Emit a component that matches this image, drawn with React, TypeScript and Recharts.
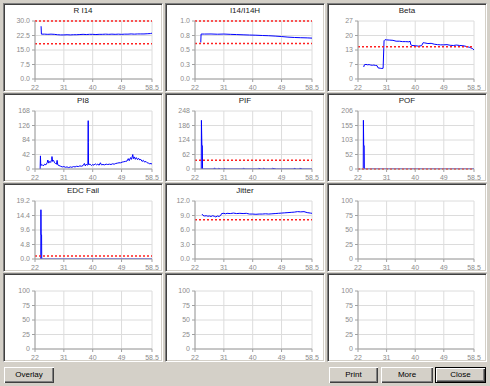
import React from "react";
import { LineChart, Line, XAxis, YAxis, CartesianGrid, ReferenceLine } from "recharts";

// x axis is the same for every panel
const xTicks = [22, 31, 40, 49, 58.5];
const xLabels = ["22", "31", "40", "49", "58.5"];

// R I14
const riTicks = [0, 7.5, 15, 22.5, 30];
const riLabels = ["0.0", "7.5", "15.0", "22.5", "30.0"];
const riLimits = [30, 18.2];
const riData: [number, number][] = [
  [23.9, 27.3], [24.0, 23.2], [25, 23.2], [26, 23.1], [27, 23.2], [28, 23.1], [29, 22.9],
  [30, 22.8], [31, 22.8], [32, 22.9], [33, 22.8], [34, 22.9], [35, 22.9], [36, 23.0],
  [37, 23.1], [38, 23.0], [39, 23.1], [40, 23.1], [41, 23.0], [42, 23.1], [43, 23.1],
  [44, 23.2], [45, 23.1], [46, 23.2], [47, 23.1], [48, 23.2], [49, 23.1], [50, 23.2],
  [51, 23.2], [52, 23.3], [53, 23.2], [54, 23.3], [55, 23.3], [56, 23.3], [57, 23.4],
  [58, 23.5], [58.5, 23.7],
];

// I14/I14H
const iTicks = [0, 0.25, 0.5, 0.75, 1];
const iLabels = ["0.0", "0.3", "0.5", "0.8", "1.0"];
const iLimits = [1, 0.61];
const iData: [number, number][] = [
  [23.8, 0.63], [23.9, 0.775], [25, 0.775], [27, 0.776], [29, 0.772], [31, 0.775],
  [33, 0.77], [35, 0.766], [37, 0.762], [39, 0.758], [41, 0.755], [43, 0.75],
  [45, 0.746], [47, 0.74], [49, 0.732], [51, 0.722], [53, 0.716], [55, 0.712],
  [57, 0.709], [58.5, 0.705],
];

// Beta
const betaTicks = [0, 6.75, 13.5, 20.25, 27];
const betaLabels = ["0", "7", "13", "20", "27"];
const betaLimits = [15];
const betaData: [number, number][] = [
  [23.8, 5.6], [24.0, 6.6], [24.5, 6.8], [25, 6.6], [25.5, 6.7], [26, 6.5], [26.5, 6.4],
  [27, 6.5], [27.5, 6.3], [28, 6.2], [28.3, 5.2], [29, 5.0], [29.5, 4.9], [29.9, 5.0],
  [30.2, 17.8], [30.5, 18.3], [31, 18.2], [32, 18.1], [33, 18.0], [34, 17.6], [35, 17.6],
  [36, 17.4], [37, 17.4], [38, 17.3], [38.4, 17.6], [38.6, 16.0], [39, 15.6], [40, 15.5],
  [41, 15.3], [42, 15.5], [42.5, 16.9], [43, 16.8], [44, 16.5], [45, 16.6], [46, 16.2],
  [47, 16.0], [48, 15.9], [49, 15.9], [50, 16.0], [51, 15.7], [52, 15.6], [53, 15.8],
  [54, 15.6], [55, 15.5], [56, 15.2], [57, 14.8], [58, 14.2], [58.5, 13.5],
];

// PI8
const pi8Ticks = [0, 42, 84, 126, 168];
const pi8Labels = ["0", "42", "84", "126", "168"];
const pi8Limits: number[] = [];
const pi8Data: [number, number][] = [
  [23.6, 0], [23.7, 38], [23.8, 10], [24.2, 13], [24.6, 9], [25, 14], [25.4, 12], [25.8, 18],
  [26.0, 26], [26.3, 17], [26.6, 22], [26.9, 19], [27.2, 28], [27.3, 36], [27.5, 22],
  [27.8, 25], [28.1, 18], [28.4, 16], [28.7, 14], [28.9, 25], [29.1, 12], [29.5, 10],
  [30, 8], [30.5, 6], [31, 7], [31.5, 5], [32, 6], [32.5, 4], [33, 6], [33.5, 5], [34, 7],
  [34.5, 6], [35, 8], [35.5, 7], [36, 9], [36.5, 8], [37, 10], [37.4, 16], [37.7, 9],
  [38.0, 14], [38.3, 11], [38.5, 12], [38.6, 140], [38.65, 76], [38.7, 13], [39.2, 14],
  [39.6, 10], [40, 13], [40.4, 11], [40.8, 15], [41.2, 12], [41.6, 14], [42, 11],
  [42.4, 18], [42.7, 12], [43.2, 13], [43.7, 12], [44.2, 14], [44.7, 13], [45.2, 14],
  [45.7, 13], [46.2, 15], [46.7, 14], [47.2, 16], [47.7, 17], [48.2, 18], [48.7, 18],
  [49.2, 20], [49.7, 21], [50.2, 22], [50.7, 23], [51.1, 30], [51.4, 24], [51.8, 33],
  [52.1, 28], [52.5, 42], [52.7, 30], [53, 35], [53.3, 28], [53.6, 33], [54, 27],
  [54.3, 31], [54.7, 26], [55, 28], [55.4, 22], [55.8, 25], [56.2, 20], [56.6, 22],
  [57, 18], [57.4, 17], [57.8, 15], [58.2, 16], [58.5, 14],
];

// PIF
const pifTicks = [0, 62, 124, 186, 248];
const pifLabels = ["0", "62", "124", "186", "248"];
const pifLimits = [37];
const pifData: [number, number][] = [
  [23.95, 0], [24.0, 208], [24.15, 100], [24.3, 100], [24.35, 0], [27.8, 0], [27.9, 3],
  [28.3, 3], [28.4, 0], [29.3, 0], [29.4, 3], [29.8, 0], [31.0, 0], [31.1, 3], [31.6, 0],
  [37.0, 0], [37.1, 3], [37.6, 0], [41.8, 0], [41.9, 3], [42.6, 0], [43.3, 0], [43.4, 3],
  [43.9, 0], [46.0, 0], [46.1, 3], [47.4, 0], [52.8, 0], [52.9, 3], [53.6, 0], [54.6, 0],
  [54.7, 3], [55.6, 0], [58.5, 0],
];

// POF
const pofTicks = [0, 51.5, 103, 154.5, 206];
const pofLabels = ["0", "52", "103", "155", "206"];
const pofLimits = [0];
const pofData: [number, number][] = [
  [23.65, 0], [23.7, 173], [23.8, 83], [23.95, 83], [24.0, 0], [58.5, 0],
];

// EDC Fail
const edcTicks = [0, 4.8, 9.6, 14.4, 19.2];
const edcLabels = ["0.0", "4.8", "9.6", "14.4", "19.2"];
const edcLimits = [1.0];
const edcData: [number, number][] = [
  [23.8, 0], [23.85, 16.3], [23.9, 8.0], [24.05, 8.0], [24.1, 0], [58.5, 0],
];

// Jitter
const jitTicks = [0, 3, 6, 9, 12];
const jitLabels = ["0.0", "3.0", "6.0", "9.0", "12.0"];
const jitLimits = [8.1];
const jitData: [number, number][] = [
  [24.2, 9.3], [24.5, 9.0], [25, 8.9], [25.5, 8.95], [26, 8.85], [26.5, 8.9], [27, 8.8],
  [27.5, 8.95], [28, 8.85], [28.5, 8.7], [29, 8.9], [29.5, 8.8], [30, 9.0], [30.3, 9.4],
  [31, 9.45], [31.5, 9.35], [32, 9.45], [33, 9.4], [34, 9.5], [35, 9.4], [36, 9.45],
  [37, 9.4], [38, 9.45], [39, 9.3], [40, 9.3], [41, 9.25], [42, 9.3], [43, 9.3],
  [44, 9.35], [45, 9.3], [46, 9.35], [47, 9.4], [48, 9.45], [49, 9.5], [50, 9.55],
  [51, 9.6], [52, 9.65], [53, 9.7], [54, 9.8], [55, 9.75], [56, 9.8], [57, 9.6],
  [58, 9.5], [58.5, 9.45],
];

// empty panels
const emptyTicks = [0, 25, 50, 75, 100];
const emptyLabels = ["0", "25", "50", "75", "100"];

const panels = [
  { title: "R I14", yTicks: riTicks, yLabels: riLabels, limits: riLimits, data: riData },
  { title: "I14/I14H", yTicks: iTicks, yLabels: iLabels, limits: iLimits, data: iData },
  { title: "Beta", yTicks: betaTicks, yLabels: betaLabels, limits: betaLimits, data: betaData },
  { title: "PI8", yTicks: pi8Ticks, yLabels: pi8Labels, limits: pi8Limits, data: pi8Data },
  { title: "PIF", yTicks: pifTicks, yLabels: pifLabels, limits: pifLimits, data: pifData },
  { title: "POF", yTicks: pofTicks, yLabels: pofLabels, limits: pofLimits, data: pofData },
  { title: "EDC Fail", yTicks: edcTicks, yLabels: edcLabels, limits: edcLimits, data: edcData },
  { title: "Jitter", yTicks: jitTicks, yLabels: jitLabels, limits: jitLimits, data: jitData },
  { title: "", yTicks: emptyTicks, yLabels: emptyLabels, limits: [], data: [] },
  { title: "", yTicks: emptyTicks, yLabels: emptyLabels, limits: [], data: [] },
  { title: "", yTicks: emptyTicks, yLabels: emptyLabels, limits: [], data: [] },
  { title: "", yTicks: emptyTicks, yLabels: emptyLabels, limits: [], data: [] },
];

const colLeft = [3, 165, 327];
const rowTop = [3, 93, 183, 273];
const yAxisWidth = [30, 28, 29];
const rightMargin = [9, 11, 11];

const tickStyle = { fontSize: 7, fill: "#8c8c8c" };

const Panel = ({ p, col, row }: any) => {
  const rows = p.data.map(([x, y]: [number, number]) => ({ x, y }));
  const max = p.yTicks[p.yTicks.length - 1];
  return (
    <div
      style={{
        position: "absolute",
        left: colLeft[col],
        top: rowTop[row],
        width: 160,
        height: 89,
        boxSizing: "border-box",
        background: "#fff",
        borderTop: "1px solid #808080",
        borderLeft: "1px solid #808080",
        borderRight: "1px solid #fff",
        borderBottom: "1px solid #fff",
        boxShadow: "inset 1px 1px 0 #404040, inset -1px -1px 0 #d4d0c8",
        padding: 1,
      }}
    >
      <div
        style={{
          position: "absolute",
          left: 0,
          right: 0,
          top: 2,
          textAlign: "center",
          fontSize: 8,
          lineHeight: "10px",
          color: "#222",
        }}
      >
        {p.title}
      </div>
      <LineChart
        width={156}
        height={85}
        data={rows}
        margin={{ top: 16, right: rightMargin[col], left: 0, bottom: 0 }}
      >
        <CartesianGrid stroke="#dcdcdc" />
        <XAxis
          dataKey="x"
          type="number"
          domain={[22, 58.5]}
          ticks={xTicks}
          interval={0}
          height={11}
          tickSize={3}
          tickMargin={3}
          tick={tickStyle}
          stroke="#a0a0a0"
          tickFormatter={(v: number) => xLabels[xTicks.indexOf(v)]}
          allowDataOverflow
        />
        <YAxis
          type="number"
          domain={[0, max]}
          ticks={p.yTicks}
          interval={0}
          width={yAxisWidth[col]}
          tickSize={3}
          tickMargin={2}
          tick={tickStyle}
          stroke="#a0a0a0"
          tickFormatter={(v: number) => p.yLabels[p.yTicks.indexOf(v)]}
          allowDataOverflow
        />
        <Line
          dataKey="y"
          type="linear"
          stroke="#0000ff"
          strokeWidth={1}
          dot={false}
          isAnimationActive={false}
        />
        {p.limits.map((v: number) => (
          <ReferenceLine
            key={String(v)}
            y={v}
            stroke="#ff2020"
            strokeWidth={1.5}
            strokeDasharray="2 2"
          />
        ))}
      </LineChart>
    </div>
  );
};

const Button = ({ label, left, width, isDefault }: any) => (
  <div
    style={{
      position: "absolute",
      left,
      top: 367,
      width,
      height: 16,
      boxSizing: "border-box",
      background: "#d4d0c8",
      border: isDefault ? "1px solid #000" : "none",
      boxShadow: "inset 1px 1px 0 #fff, inset -1px -1px 0 #404040, inset -2px -2px 0 #808080",
      fontSize: 8,
      lineHeight: isDefault ? "14px" : "16px",
      textAlign: "center",
      color: "#000",
    }}
  >
    {label}
  </div>
);

export default function App() {
  return (
    <div
      style={{
        position: "relative",
        width: 490,
        height: 386,
        background: "#d4d0c8",
        fontFamily: "'Liberation Sans', Arial, sans-serif",
        overflow: "hidden",
      }}
    >
      <style>{"body{margin:0}"}</style>
      {panels.map((p, i) => (
        <Panel key={i} p={p} col={i % 3} row={Math.floor(i / 3)} />
      ))}
      <Button label="Overlay" left={4} width={50} />
      <Button label="Print" left={329} width={49} />
      <Button label="More" left={381} width={52} />
      <Button label="Close" left={435} width={51} isDefault />
    </div>
  );
}
